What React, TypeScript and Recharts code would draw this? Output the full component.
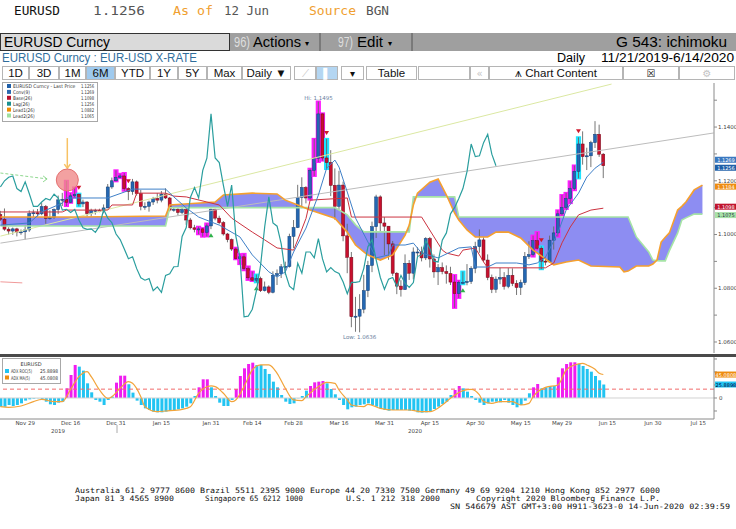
import React from 'react'
import {
  ComposedChart,
  Bar,
  Line,
  Area,
  XAxis,
  YAxis,
  ReferenceLine,
  ReferenceDot,
  Cell,
} from 'recharts'

// x = trading-day index counted from 11/21/2019 (Jun 12 2020 = 146)
const X_MIN = -0.1
const X_MAX = 172.8

// EURUSD daily bars (FX bars open at the prior close)
const firstOpen = 1.1074
const closes = [
  1.1057, 1.102, 1.1013, 1.1021, 1.1009, 1.101, 1.1017, 1.1078, 1.1081, 1.1077,
  1.1104, 1.106, 1.1063, 1.1093, 1.1129, 1.1131, 1.112, 1.1144, 1.115, 1.1114,
  1.1121, 1.1078, 1.1089, 1.109, 1.1089, 1.1099, 1.1177, 1.12, 1.1213, 1.1218,
  1.1171, 1.116, 1.1196, 1.1152, 1.1105, 1.1105, 1.1121, 1.1134, 1.1128, 1.115,
  1.1136, 1.1091, 1.1094, 1.1082, 1.1093, 1.1054, 1.1025, 1.1019, 1.1021, 1.1008,
  1.1032, 1.1093, 1.1061, 1.1044, 1.1002, 1.0981, 1.0946, 1.091, 1.0917, 1.0873,
  1.0839, 1.083, 1.0836, 1.0791, 1.0805, 1.0785, 1.0848, 1.0854, 1.088, 1.0881,
  1.0993, 1.1026, 1.1138, 1.1175, 1.1136, 1.1239, 1.1284, 1.1449, 1.1285, 1.1268,
  1.1183, 1.1105, 1.1184, 1.0995, 1.0915, 1.0694, 1.0696, 1.0722, 1.0791, 1.0885,
  1.1029, 1.114, 1.1043, 1.1031, 1.0965, 1.0856, 1.0808, 1.0795, 1.0893, 1.0856,
  1.0935, 1.0935, 1.0913, 1.0985, 1.0909, 1.0861, 1.0877, 1.0862, 1.0855, 1.0823,
  1.078, 1.0822, 1.0822, 1.0825, 1.0874, 1.0955, 1.098, 1.0905, 1.084, 1.0796,
  1.0834, 1.084, 1.0807, 1.0848, 1.0818, 1.0803, 1.0821, 1.0918, 1.0925, 1.0977,
  1.0949, 1.0901, 1.0898, 1.0979, 1.1006, 1.1077, 1.1101, 1.1134, 1.1171, 1.1235,
  1.1337, 1.129, 1.1293, 1.1342, 1.1373, 1.1299, 1.1256,
]
const highs = [
  1.1088, 1.1097, 1.1027, 1.1026, 1.1025, 1.1019, 1.1035, 1.109, 1.1093, 1.1095,
  1.1117, 1.111, 1.109, 1.1097, 1.1145, 1.1155, 1.12, 1.1154, 1.1175, 1.1152,
  1.113, 1.1124, 1.1096, 1.1096, 1.1096, 1.1112, 1.1188, 1.1212, 1.1239, 1.1226,
  1.1229, 1.1176, 1.1207, 1.1201, 1.1166, 1.112, 1.1126, 1.114, 1.1154, 1.1162,
  1.1172, 1.114, 1.11, 1.11, 1.1104, 1.1102, 1.1062, 1.1036, 1.1029, 1.1024,
  1.1041, 1.1097, 1.1096, 1.107, 1.105, 1.1006, 1.0985, 1.0951, 1.0927, 1.0928,
  1.0881, 1.0862, 1.0851, 1.0843, 1.0825, 1.0811, 1.0863, 1.087, 1.089, 1.0899,
  1.1003, 1.1054, 1.1185, 1.1213, 1.118, 1.1245, 1.1356, 1.1495, 1.1451, 1.1356,
  1.1314, 1.1246, 1.1237, 1.1197, 1.104, 1.0935, 1.0768, 1.0778, 1.085, 1.0902,
  1.1048, 1.1148, 1.1146, 1.1065, 1.1031, 1.0976, 1.086, 1.083, 1.0926, 1.0905,
  1.0952, 1.0953, 1.0955, 1.099, 1.0991, 1.0926, 1.089, 1.0896, 1.0885, 1.088,
  1.0849, 1.0828, 1.0862, 1.089, 1.0882, 1.0973, 1.1019, 1.099, 1.0926, 1.0851,
  1.0844, 1.0876, 1.086, 1.0875, 1.0874, 1.083, 1.0832, 1.0935, 1.0975, 1.0996,
  1.1009, 1.0956, 1.0915, 1.0996, 1.103, 1.109, 1.1147, 1.1155, 1.1198, 1.1257,
  1.1362, 1.1384, 1.1323, 1.1349, 1.1422, 1.1409, 1.1303,
]
const lows = [
  1.105, 1.1014, 1.1, 1.0999, 1.0993, 1.0999, 1.0981, 1.101, 1.1065, 1.1066,
  1.1072, 1.104, 1.1055, 1.1058, 1.1076, 1.1106, 1.1106, 1.1118, 1.1138, 1.1105,
  1.1102, 1.1068, 1.1066, 1.1074, 1.1083, 1.1079, 1.1098, 1.117, 1.1198, 1.121,
  1.1163, 1.1128, 1.1148, 1.1145, 1.109, 1.1092, 1.1085, 1.111, 1.1116, 1.112,
  1.1132, 1.1086, 1.1085, 1.1071, 1.1076, 1.1036, 1.1019, 1.1008, 1.1001, 1.0992,
  1.0993, 1.102, 1.1053, 1.1038, 1.0996, 1.0971, 1.0939, 1.0908, 1.089, 1.0867,
  1.0831, 1.0827, 1.0822, 1.0786, 1.0788, 1.0778, 1.0781, 1.0812, 1.0838, 1.085,
  1.0877, 1.095, 1.1024, 1.1098, 1.1116, 1.113, 1.1218, 1.127, 1.1275, 1.1244,
  1.1143, 1.1055, 1.1092, 1.0975, 1.0856, 1.0655, 1.0638, 1.0636, 1.0707, 1.0767,
  1.086, 1.0987, 1.1013, 1.0923, 1.0906, 1.0846, 1.0778, 1.0769, 1.0795, 1.0831,
  1.0833, 1.092, 1.09, 1.0905, 1.0877, 1.0839, 1.0812, 1.0852, 1.0817, 1.0812,
  1.0727, 1.0764, 1.0815, 1.0811, 1.0816, 1.0856, 1.0932, 1.0897, 1.083, 1.0782,
  1.0783, 1.0815, 1.0795, 1.08, 1.0808, 1.0775, 1.0775, 1.0812, 1.0909, 1.0918,
  1.0944, 1.0871, 1.0885, 1.0895, 1.0944, 1.0992, 1.1071, 1.1095, 1.1117, 1.1165,
  1.1209, 1.126, 1.124, 1.1251, 1.1322, 1.1289, 1.121,
]

// highlighted bars (magenta = signal run, cyan = turn) and arrows
const magentaDays = [16, 17, 18, 28, 29, 30, 48, 49, 50, 57, 58, 59, 60, 61, 75, 76, 77, 78, 110, 111, 129, 130, 135, 136, 137, 138, 139]
const cyanDays = [19, 62, 79, 112, 131, 140]
const sellDays = [19, 31, 79, 131, 140]
const buyDays = [51, 62, 112]

// ichimoku lines: [day, price]
const convPts: [number, number][] = [
  [0, 1.1035], [7, 1.1043], [10, 1.1084], [15, 1.1117], [16, 1.1136], [26, 1.1136], [32, 1.1169],
  [40, 1.1169], [42, 1.114], [45, 1.1099], [48, 1.1065], [53, 1.1035], [58, 1.0991], [61, 1.0924],
  [65, 1.0861], [67, 1.0842], [69, 1.0861], [71, 1.0935], [74, 1.1024], [77, 1.1147], [79, 1.1247],
  [81, 1.1277], [82, 1.1251], [84, 1.1158], [86, 1.1061], [89, 1.0972], [91, 1.0913], [94, 1.0924],
  [95, 1.0961], [98, 1.0961], [100, 1.0968], [102, 1.0931], [106, 1.0913], [111, 1.095], [114, 1.0954],
  [115, 1.0879], [118, 1.0879], [120, 1.0894], [125, 1.0894], [128, 1.0887], [130, 1.0894],
  [132, 1.0916], [135, 1.1006], [137, 1.1091], [140, 1.1154], [142, 1.1214], [144, 1.1247], [146, 1.1269],
]
const basePts: [number, number][] = [
  [0, 1.1084], [15, 1.1084], [16, 1.1091], [26, 1.1091], [27, 1.111], [32, 1.111], [33, 1.1154],
  [40, 1.1154], [42, 1.1143], [45, 1.114], [50, 1.1121], [53, 1.111], [56, 1.1061], [61, 1.1009],
  [64, 1.098], [67, 1.095], [71, 1.0942], [72, 1.098], [74, 1.106], [75, 1.1128], [84, 1.1136],
  [85, 1.1065], [102, 1.1065], [105, 1.0991], [107, 1.0942], [108, 1.0931], [111, 1.092], [112, 1.0942],
  [115, 1.095], [117, 1.0898], [118, 1.0876], [132, 1.0876], [134, 1.0894], [136, 1.0969],
  [138, 1.1028], [140, 1.1073], [143, 1.1091], [146, 1.1098],
]
const cloudDays = [
  0, 19, 40, 41, 52, 54, 61, 67, 69, 72, 75, 81, 84, 86, 88, 89, 92, 95, 98, 99, 100, 101, 104, 106,
  108, 110, 111, 113, 115, 118, 120, 123, 126, 129, 134, 137, 140, 143, 150, 151, 152, 154, 157, 158,
  159, 160, 161, 162, 164, 165, 166, 168, 170,
]
const lead1Vals = [
  1.1065, 1.1065, 1.1069, 1.111, 1.1121, 1.1147, 1.1154, 1.1151, 1.1128, 1.111, 1.1091, 1.1061,
  1.1009, 1.0961, 1.0935, 1.0924, 1.0905, 1.0924, 1.0998, 1.1035, 1.111, 1.1154, 1.1195, 1.1207,
  1.1147, 1.108, 1.1054, 1.1017, 1.0991, 1.0991, 1.1009, 1.1009, 1.0987, 1.0942, 1.0887, 1.0898,
  1.0905, 1.0883, 1.0879, 1.0861, 1.0864, 1.0883, 1.0883, 1.089, 1.0905, 1.0972, 1.099, 1.1006,
  1.1091, 1.1105, 1.1121, 1.1166, 1.1184,
]
const lead2Vals = [
  1.1032, 1.1032, 1.1032, 1.11, 1.11, 1.11, 1.11, 1.11, 1.11, 1.11, 1.11, 1.11, 1.1073, 1.1036,
  1.101, 1.101, 1.101, 1.101, 1.101, 1.101, 1.114, 1.114, 1.114, 1.114, 1.114, 1.114, 1.1065,
  1.1065, 1.1065, 1.1065, 1.1065, 1.1065, 1.1065, 1.1065, 1.1065, 1.1065, 1.1065, 1.1065, 1.1065,
  1.1065, 1.1065, 1.0991, 1.0935, 1.0905, 1.0903, 1.0902, 1.0902, 1.094, 1.1006, 1.1054, 1.1062,
  1.1076, 1.1076,
]

// ADX ROC(5) histogram and its MA(5)
const adxRoc = [
  -16.7, -16.7, -13.5, -15.4, -13.5, -10.3, -5.1, -2.6, -1.3, -0.6,
  -1.9, -7.1, -12.2, -13.5, -9, -7.1, 18.6, 44.2, 63.5, 60.3,
  52.6, 28.2, 10.9, -3.8, -7.1, -13.5, -3.8, 2.6, 29.5, 42.9,
  42.9, 26.3, 10.3, -5.1, -13.5, -19.9, -23.1, -26.3, -27.6, -27.6,
  -26.3, -25, -23.7, -21.8, -19.9, -16.7, -10.3, 3.8, 20.5, 35.9,
  35.9, 20.5, 3.8, -9, -15.4, -15.4, -3.8, 17.3, 42.3, 57,
  65.4, 67.9, 63.5, 63.5, 55.8, 46.2, 31.4, 20.5, 5.8, -7.1,
  -11.5, -10.3, -0.6, 3.8, 14.1, 23.1, 30.1, 31.4, 32.7, 28.2,
  17.3, 7.1, -3.8, -13.5, -21.8, -17.9, -16.7, -13.5, -12.2, -10.3,
  -13.5, -16.7, -19.9, -23.1, -24.4, -23.1, -23.1, -23.1, -23.1, -24.4,
  -25, -27.6, -28.2, -27.6, -25, -21.2, -16.7, -11.5, -7.1, 5.8,
  15.4, 23.1, 18.6, 12.2, 3.8, -3.8, -9, -13.5, -10.3, -7.1,
  -7.1, -8.3, -3.8, -9, -13.5, -17.9, -13.5, -5.1, 9, 20.5,
  26.9, 18.6, 20.5, 23.1, 23.1, 39.7, 57, 65.4, 68.6, 68.6,
  65.4, 61.5, 55.8, 50.6, 42.3, 34, 25.9,
]
const adxMaPts: [number, number][] = [
  [0, -16.7], [2, -17.9], [5, -15.4], [8, -7.1], [10, -2.6], [13, -7.1], [15, -7.1], [17, 16.7],
  [19, 41], [21, 50.6], [22, 41], [24, 15.4], [26, -0.6], [27, 2.6], [29, 18.6], [31, 31.4],
  [32, 28.2], [34, 2.6], [35, -16.7], [38, -26.3], [40, -25], [44, -21.8], [46, -16.7], [48, 9],
  [51, 23.1], [52, 21.8], [54, 9], [56, -7.1], [57, -3.8], [59, 21.8], [61, 53.8], [63, 63.5],
  [65, 63.5], [67, 47.4], [69, 18.6], [71, -3.8], [73, -5.1], [74, 2.6], [77, 21.8], [79, 30.1],
  [81, 28.2], [82, 15.4], [84, -3.8], [85, -13.5], [88, -16.7], [89, -12.2], [92, -19.9],
  [95, -23.1], [99, -23.1], [102, -26.3], [104, -26.3], [107, -13.5], [109, -0.6], [112, 14.1],
  [114, 16.7], [116, 5.8], [117, -7.1], [119, -10.3], [121, -7.1], [124, -7.1], [126, -13.5],
  [128, -10.3], [129, 2.6], [132, 20.5], [135, 25], [137, 53.8], [139, 63.5], [141, 66.7],
  [142, 63.5], [144, 55.1], [145, 47.4], [146, 45.1],
]
const adxLevel = 17

// axis ticks
const priceTicks = [1.06, 1.07, 1.08, 1.09, 1.1, 1.11, 1.12, 1.13, 1.14, 1.15]
const dateTicks = [6, 17, 28, 39, 51, 61, 71, 82, 93, 104, 115, 126, 136, 147, 158, 169]
const dateLabels = [
  'Nov 29', 'Dec 16', 'Dec 31', 'Jan 15', 'Jan 31', 'Feb 14', 'Feb 28', 'Mar 16',
  'Mar 31', 'Apr 15', 'Apr 30', 'May 15', 'May 29', 'Jun 15', 'Jun 30', 'Jul 15',
]

// hand-drawn annotations on the chart (day, price)
const trendYellow = [{ x: 0, y: 1.0994 }, { x: 148, y: 1.156 }]
const trendGray = [{ x: 0, y: 1.0968 }, { x: 172.7, y: 1.1378 }]
const greenArrow = [{ x: 0, y: 1.1229 }, { x: 11.3, y: 1.1207 }]
const pinkStub = [{ x: 0, y: 1.0824 }, { x: 5.3, y: 1.082 }]
const orangeArrow = [{ x: 16.2, y: 1.1359 }, { x: 16.2, y: 1.1247 }]
const circleMark = { x: 16.2, y: 1.1203 }

type Row = {
  i: number
  o?: number
  h?: number
  l?: number
  c?: number
  range?: [number, number]
  mark?: string
  sig?: string
  lag?: number
  conv?: number
  base?: number
  lead1?: number
  lead2?: number
  cloud?: [number, number]
}

const rowMap = new Map<number, Row>()
const rowAt = (i: number) => {
  let r = rowMap.get(i)
  if (!r) {
    r = { i }
    rowMap.set(i, r)
  }
  return r
}
closes.forEach((c, i) => {
  const r = rowAt(i)
  r.o = i === 0 ? firstOpen : closes[i - 1]
  r.h = highs[i]
  r.l = lows[i]
  r.c = c
  r.range = [lows[i], highs[i]]
  if (magentaDays.includes(i)) r.mark = 'm'
  if (cyanDays.includes(i)) r.mark = 'c'
  if (sellDays.includes(i)) r.sig = 'sell'
  if (buyDays.includes(i)) r.sig = 'buy'
  // lagging span: close plotted 26 days back
  if (i >= 26) rowAt(i - 26).lag = c
})
convPts.forEach(([i, v]) => (rowAt(i).conv = v))
basePts.forEach(([i, v]) => (rowAt(i).base = v))
cloudDays.forEach((i, k) => {
  const r = rowAt(i)
  r.lead1 = lead1Vals[k]
  r.lead2 = lead2Vals[k]
  r.cloud = [lead2Vals[k], lead1Vals[k]]
})
const mainRows = Array.from(rowMap.values()).sort((a, b) => a.i - b.i)

const adxRows = adxRoc.map((v, i) => {
  const p = adxMaPts.find((q) => q[0] === i)
  return { i, roc: v, ma: p ? p[1] : undefined }
})

const FONT = 'DejaVu Sans'

function Candle(props: any) {
  const { x, y, width, height, payload } = props
  if (!payload || payload.h == null || x == null || y == null) return null
  const top = Math.min(y, y + height)
  const span = Math.abs(height)
  const k = span / (payload.h - payload.l || 1)
  const cx = x + width / 2
  const hiB = Math.max(payload.o, payload.c)
  const loB = Math.min(payload.o, payload.c)
  const bTop = top + (payload.h - hiB) * k
  const bH = Math.max(1, (hiB - loB) * k)
  const up = payload.c >= payload.o
  return (
    <g>
      {payload.mark && (
        <rect
          x={cx - 2.6}
          y={top - 1}
          width={5.2}
          height={span + 2}
          fill={payload.mark === 'm' ? '#ff1cff' : '#1ee4ff'}
        />
      )}
      <line x1={cx} x2={cx} y1={top} y2={top + span} stroke="#666" strokeWidth={0.9} />
      <rect
        x={cx - 1.5}
        y={bTop}
        width={3}
        height={bH}
        fill={up ? '#2467b2' : '#c8102e'}
        stroke={up ? '#123e74' : '#6e0a1a'}
        strokeWidth={0.5}
      />
      {payload.sig === 'sell' && (
        <path d={`M${cx - 2.5},${top - 8} L${cx + 2.5},${top - 8} L${cx},${top - 4} Z`} fill="#d0182c" />
      )}
      {payload.sig === 'buy' && (
        <path d={`M${cx - 2.5},${top + span + 8} L${cx + 2.5},${top + span + 8} L${cx},${top + span + 4} Z`} fill="#2fb24a" />
      )}
    </g>
  )
}

// value tag on the right axis; dy nudges tags that sit on top of each other
const axisTag = (text: string, bg: string, fg = '#fff', dy = 0) => (p: any) => (
  <g>
    <rect x={p.cx + 1} y={p.cy + dy - 3} width={22} height={6} fill={bg} />
    <text x={p.cx + 12} y={p.cy + dy + 2} fontSize={5} fill={fg} textAnchor="middle" fontFamily={FONT}>
      {text}
    </text>
  </g>
)

function MainChart() {
  return (
    <ComposedChart width={736} height={272} data={mainRows} margin={{ top: 1, right: 0, bottom: 1, left: 0 }}>
      <XAxis type="number" dataKey="i" domain={[X_MIN, X_MAX]} allowDataOverflow hide />
      <YAxis
        orientation="right"
        width={22}
        type="number"
        domain={[1.0559, 1.1564]}
        allowDataOverflow
        ticks={priceTicks}
        interval={0}
        tickFormatter={(v: number) => (Math.round(v * 100) % 2 === 0 ? v.toFixed(4) : '')}
        tick={{ fontSize: 5.5, fill: '#444', fontFamily: FONT }}
        tickSize={3}
        tickMargin={1}
        axisLine={{ stroke: '#8a8a8a' }}
        tickLine={{ stroke: '#8a8a8a' }}
      />
      <ReferenceLine segment={trendGray} stroke="#bcbcbc" strokeWidth={1} />
      <ReferenceLine segment={trendYellow} stroke="#dbe8a2" strokeWidth={1} />
      <Area
        dataKey="cloud"
        stroke="none"
        fill="#8d8df2"
        fillOpacity={1}
        connectNulls
        isAnimationActive={false}
      />
      <Line dataKey="lead2" stroke="#a6e4a6" strokeWidth={1.6} dot={false} connectNulls isAnimationActive={false} />
      <Line dataKey="lead1" stroke="#f5a02e" strokeWidth={1.6} dot={false} connectNulls isAnimationActive={false} />
      <Line dataKey="base" stroke="#cc3340" strokeWidth={1} dot={false} connectNulls isAnimationActive={false} />
      <Line dataKey="conv" stroke="#3f80c8" strokeWidth={1} dot={false} connectNulls isAnimationActive={false} />
      <Line dataKey="lag" stroke="#2a9e9e" strokeWidth={1.2} dot={false} isAnimationActive={false} />
      <Bar dataKey="range" barSize={4} shape={Candle} isAnimationActive={false} />
      <ReferenceLine segment={greenArrow} stroke="#8fd88f" strokeDasharray="3 2" />
      <ReferenceDot
        x={greenArrow[1].x}
        y={greenArrow[1].y}
        shape={(p: any) => (
          <path d={`M${p.cx - 4},${p.cy - 3} L${p.cx},${p.cy} L${p.cx - 4},${p.cy + 3}`} stroke="#8fd88f" fill="none" />
        )}
      />
      <ReferenceLine segment={pinkStub} stroke="#f09a9a" />
      <ReferenceLine segment={orangeArrow} stroke="#f7c264" strokeWidth={1.5} />
      <ReferenceDot
        x={orangeArrow[1].x}
        y={orangeArrow[1].y}
        shape={(p: any) => (
          <path d={`M${p.cx - 3},${p.cy - 4} L${p.cx},${p.cy} L${p.cx + 3},${p.cy - 4}`} stroke="#f7c264" strokeWidth={1.5} fill="none" />
        )}
      />
      <ReferenceDot x={circleMark.x} y={circleMark.y} r={11} fill="#f08a8a" fillOpacity={0.8} stroke="#e47070" />
      <ReferenceDot
        x={77}
        y={highs[77]}
        shape={(p: any) => (
          <text x={p.cx} y={p.cy - 2} fontSize={5.5} fill="#6a7fa0" textAnchor="middle" fontFamily={FONT}>
            {`Hi: ${highs[77].toFixed(4)}`}
          </text>
        )}
      />
      <ReferenceDot
        x={87}
        y={lows[87]}
        shape={(p: any) => (
          <text x={p.cx} y={p.cy + 7} fontSize={5.5} fill="#6a7fa0" textAnchor="middle" fontFamily={FONT}>
            {`Low: ${lows[87].toFixed(4)}`}
          </text>
        )}
      />
      <ReferenceDot x={X_MAX - 0.01} y={lead2Vals[lead2Vals.length - 1]} shape={axisTag('1.1075', '#a8e2a8', '#234', 1)} />
      <ReferenceDot x={X_MAX - 0.01} y={1.1098} shape={axisTag('1.1098', '#c0142e', '#fff', -1.5)} />
      <ReferenceDot x={X_MAX - 0.01} y={lead1Vals[lead1Vals.length - 1]} shape={axisTag('1.1184', '#ee8c10', '#fff', 1.5)} />
      <ReferenceDot x={X_MAX - 0.01} y={1.1269} shape={axisTag('1.1269', '#3a78c0', '#fff', -2.5)} />
      <ReferenceDot x={X_MAX - 0.01} y={closes[146]} shape={axisTag('1.1256', '#1f5fa8', '#fff', 2)} />
    </ComposedChart>
  )
}

function AdxChart() {
  return (
    <ComposedChart width={736} height={76} data={adxRows} margin={{ top: 0, right: 0, bottom: 0, left: 0 }}>
      <XAxis
        type="number"
        dataKey="i"
        domain={[X_MIN, X_MAX]}
        allowDataOverflow
        ticks={dateTicks}
        interval={0}
        tickFormatter={(v: number) => dateLabels[dateTicks.indexOf(v)] ?? ''}
        height={14}
        tickSize={0}
        tickMargin={2}
        tick={{ fontSize: 5.5, fill: '#444', fontFamily: FONT }}
        axisLine={{ stroke: '#8a8a8a' }}
      />
      <YAxis
        orientation="right"
        width={22}
        type="number"
        domain={[-40.4, 78.8]}
        allowDataOverflow
        ticks={[-25, 0, 25, 50, 75]}
        interval={0}
        tickFormatter={(v: number) => (v === 0 ? '0' : '')}
        tick={{ fontSize: 5.5, fill: '#444', fontFamily: FONT }}
        tickSize={3}
        tickMargin={2}
        axisLine={{ stroke: '#8a8a8a' }}
        tickLine={{ stroke: '#8a8a8a' }}
      />
      <ReferenceLine y={0} stroke="#d2d2d2" />
      <ReferenceLine y={adxLevel} stroke="#f26b6b" strokeDasharray="4 3" />
      <Bar dataKey="roc" barSize={3} isAnimationActive={false}>
        {adxRows.map((r) => (
          <Cell key={r.i} fill={magentaDays.includes(r.i) ? '#f01cf0' : '#22c4f2'} />
        ))}
      </Bar>
      <Line dataKey="ma" type="monotone" stroke="#f2a43a" strokeWidth={1.2} dot={false} connectNulls isAnimationActive={false} />
      <ReferenceDot x={X_MAX - 0.01} y={45.08} shape={axisTag('45.0808', '#ee8c10')} />
      <ReferenceDot x={X_MAX - 0.01} y={25.89} shape={axisTag('25.8898', '#22c4f2', '#003')} />
    </ComposedChart>
  )
}

const titleRow = [
  { s: 'EURUSD', x: 14, w: 46, c: '#111' },
  { s: '1.1256', x: 93, w: 52, c: '#555' },
  { s: 'As of', x: 173, w: 40, c: '#f0a030' },
  { s: '12 Jun', x: 224, w: 45, c: '#555' },
  { s: 'Source', x: 309, w: 47, c: '#f0a030' },
  { s: 'BGN', x: 366, w: 23, c: '#555' },
]
const toolbar = [
  { a: 2, b: 29, s: '1D' },
  { a: 29, b: 59, s: '3D' },
  { a: 59, b: 86, s: '1M' },
  { a: 86, b: 115, s: '6M', on: true },
  { a: 115, b: 150, s: 'YTD' },
  { a: 150, b: 178, s: '1Y' },
  { a: 178, b: 207, s: '5Y' },
  { a: 207, b: 242, s: 'Max' },
  { a: 242, b: 291, s: 'Daily \u25BC' },
  { a: 294, b: 316, s: '\u27CB', dim: true },
  { a: 316, b: 338, s: '\u258C', on: true, light: true },
  { a: 341, b: 364, s: '\u25BE' },
  { a: 366, b: 417, s: 'Table' },
  { a: 418, b: 470, s: '' },
  { a: 470, b: 489, s: '\u00AB', dim: true },
  { a: 489, b: 623, s: '\u2A5A Chart Content' },
  { a: 623, b: 679, s: '\u2612' },
  { a: 679, b: 735, s: '\u2699', dim: true },
]
const footerRows = [
  { y: 493, parts: [{ x: 75, w: 585, s: 'Australia 61 2 9777 8600 Brazil 5511 2395 9000 Europe 44 20 7330 7500 Germany 49 69 9204 1210 Hong Kong 852 2977 6000' }] },
  {
    y: 501,
    parts: [
      { x: 75, w: 99, s: 'Japan 81 3 4565 8900' },
      { x: 205, w: 98, s: 'Singapore 65 6212 1000' },
      { x: 346, w: 94, s: 'U.S. 1 212 318 2000' },
      { x: 476, w: 184, s: 'Copyright 2020 Bloomberg Finance L.P.' },
    ],
  },
  { y: 509, parts: [{ x: 450, w: 280, s: 'SN 546679 AST  GMT+3:00 H911-3623-0 14-Jun-2020 02:39:59' }] },
]
const mainLegend = [
  { s: 'EURUSD Curncy - Last Price', v: '1.1256', c: '#1f5fa8' },
  { s: 'Conv(9)', v: '1.1269', c: '#2a6ab0' },
  { s: 'Base(26)', v: '1.1098', c: '#b8102c' },
  { s: 'Lag(26)', v: '1.1256', c: '#1a9090' },
  { s: 'Lead1(26)', v: '1.0882', c: '#f08c00' },
  { s: 'Lead2(26)', v: '1.1065', c: '#9ee09e' },
]
const adxLegend = [
  { s: 'ADX ROC(5)', v: '25.8898', c: '#22c4f2' },
  { s: 'ADX MA(5)', v: '45.0808', c: '#ee8c10' },
]

function Overlay() {
  const mono = 'DejaVu Sans Mono'
  const sans = 'Liberation Sans'
  return (
    <svg width={736} height={529} style={{ position: 'absolute', left: 0, top: 0, pointerEvents: 'none' }}>
      {titleRow.map((t) => (
        <text key={t.s} x={t.x} y={15} fontFamily={mono} fontSize={13} textLength={t.w} lengthAdjust="spacingAndGlyphs" fill={t.c}>
          {t.s}
        </text>
      ))}
      <rect x={0} y={33} width={736} height={18} fill="#9f9f9f" />
      <rect x={0.5} y={33.5} width={229} height={17} fill="#dadada" stroke="#333" />
      <text x={4} y={47} fontFamily={sans} fontSize={15} textLength={106} lengthAdjust="spacingAndGlyphs">EURUSD Curncy</text>
      <text x={234} y={47} fontFamily={sans} fontSize={14} fill="#dedede" textLength={16} lengthAdjust="spacingAndGlyphs">96)</text>
      <text x={253} y={47} fontFamily={sans} fontSize={15} textLength={48} lengthAdjust="spacingAndGlyphs">Actions</text>
      <text x={305} y={46} fontFamily={FONT} fontSize={8}>{'\u25BE'}</text>
      <line x1={320} x2={320} y1={33} y2={51} stroke="#555" />
      <text x={338} y={47} fontFamily={sans} fontSize={14} fill="#dedede" textLength={15} lengthAdjust="spacingAndGlyphs">97)</text>
      <text x={357} y={47} fontFamily={sans} fontSize={15} textLength={26} lengthAdjust="spacingAndGlyphs">Edit</text>
      <text x={388} y={46} fontFamily={FONT} fontSize={8}>{'\u25BE'}</text>
      <line x1={412} x2={412} y1={33} y2={51} stroke="#555" />
      <text x={616} y={47} fontFamily={sans} fontSize={15} textLength={111} lengthAdjust="spacingAndGlyphs">G 543: ichimoku</text>

      <text x={2} y={62} fontFamily={sans} fontSize={12.5} fill="#2f6d9c" textLength={195} lengthAdjust="spacingAndGlyphs">
        EURUSD Curncy : EUR-USD X-RATE
      </text>
      <text x={557} y={62} fontFamily={sans} fontSize={12.5} textLength={28} lengthAdjust="spacingAndGlyphs">Daily</text>
      <text x={601} y={62} fontFamily={sans} fontSize={12.5} textLength={133} lengthAdjust="spacingAndGlyphs">11/21/2019-6/14/2020</text>

      {toolbar.map((b, k) => (
        <g key={k}>
          <rect
            x={b.a + 0.5}
            y={66.5}
            width={b.b - b.a - 1}
            height={13}
            fill={b.on ? (b.light ? '#b4d6f2' : '#9fcaee') : '#fff'}
            stroke="#b5b5b5"
          />
          <text
            x={(b.a + b.b) / 2}
            y={77}
            textAnchor="middle"
            fontFamily={b.s.length <= 1 ? FONT : sans}
            fontSize={b.s.length <= 1 ? 10 : 11.5}
            fill={b.dim ? '#c4c4c4' : b.light ? '#ffffff' : '#111'}
          >
            {b.s}
          </text>
        </g>
      ))}

      <rect x={2.5} y={82.5} width={95} height={39} fill="#fff" stroke="#a8a8a8" />
      {mainLegend.map((e, k) => (
        <g key={e.s}>
          <rect x={7} y={84 + k * 5.9} width={4} height={4} fill={e.c} />
          <text x={13} y={88 + k * 5.9} fontSize={5} fontFamily={FONT} fill="#333" textLength={e.s.length * 2.4} lengthAdjust="spacingAndGlyphs">
            {e.s}
          </text>
          <text x={81} y={88 + k * 5.9} fontSize={5} fontFamily={FONT} fill="#333" textLength={13} lengthAdjust="spacingAndGlyphs">
            {e.v}
          </text>
        </g>
      ))}

      <rect x={2.5} y={358.5} width={58} height={25} fill="#fff" stroke="#a8a8a8" />
      <text x={31} y={366} fontSize={5} fontFamily={FONT} fill="#333" textAnchor="middle">EURUSD</text>
      {adxLegend.map((e, k) => (
        <g key={e.s}>
          <rect x={5} y={369 + k * 6.5} width={4} height={4} fill={e.c} />
          <text x={11} y={373 + k * 6.5} fontSize={5} fontFamily={FONT} fill="#333" textLength={e.s.length * 2.1} lengthAdjust="spacingAndGlyphs">
            {e.s}
          </text>
          <text x={40} y={373 + k * 6.5} fontSize={5} fontFamily={FONT} fill="#333" textLength={18} lengthAdjust="spacingAndGlyphs">
            {e.v}
          </text>
        </g>
      ))}

      <text x={58} y={433} fontSize={5.5} fontFamily={FONT} fill="#444" textAnchor="middle">2019</text>
      <text x={415} y={433} fontSize={5.5} fontFamily={FONT} fill="#444" textAnchor="middle">2020</text>
      <line x1={117} x2={117} y1={425} y2={433} stroke="#aaa" />

      {footerRows.map((r) =>
        r.parts.map((p) => (
          <text key={p.s} x={p.x} y={r.y} fontFamily={mono} fontSize={7.4} textLength={p.w} lengthAdjust="spacingAndGlyphs" fill="#111">
            {p.s}
          </text>
        ))
      )}
    </svg>
  )
}

export default function App() {
  return (
    <div
      style={{
        position: 'absolute',
        left: 0,
        top: 0,
        width: 736,
        height: 529,
        background: '#fff',
        overflow: 'hidden',
      }}
    >
      <div style={{ position: 'absolute', left: 0, top: 82 }}>
        <MainChart />
      </div>
      <div style={{ position: 'absolute', left: 0, top: 354, width: 736, height: 3, background: '#4a4a4a' }} />
      <div style={{ position: 'absolute', left: 0, top: 357 }}>
        <AdxChart />
      </div>
      <Overlay />
    </div>
  )
}
